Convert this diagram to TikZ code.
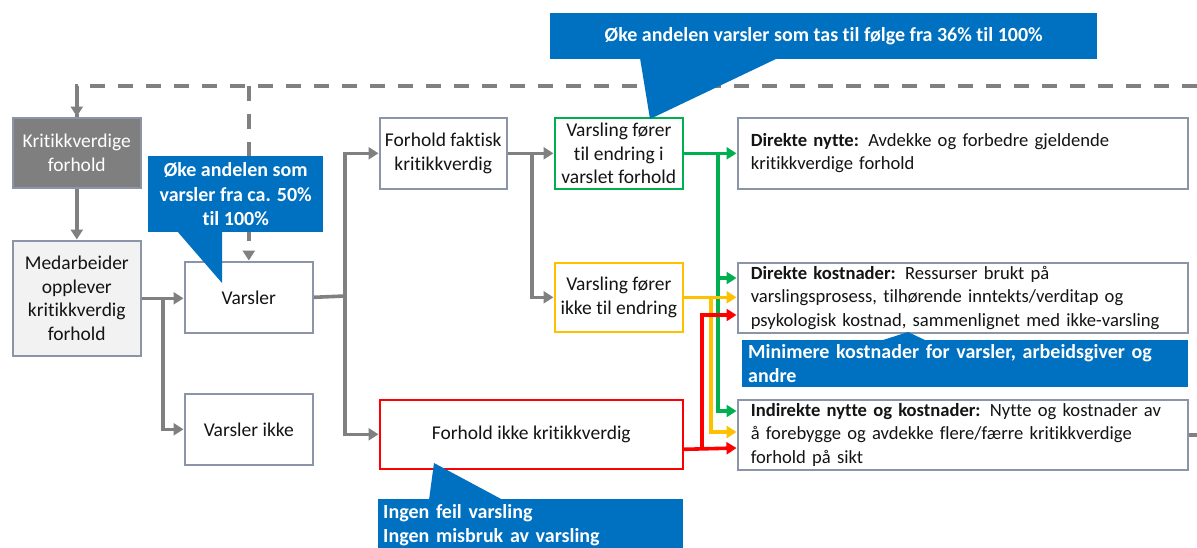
\documentclass[tikz,border=0pt]{standalone}
\usepackage{fontspec}
\setmainfont{Carlito}[Ligatures={NoCommon}]
\usetikzlibrary{arrows.meta,calc}
\definecolor{boxgray}{RGB}{140,148,168}
\definecolor{conngray}{RGB}{128,128,128}
\definecolor{darkfill}{RGB}{127,127,127}
\definecolor{lightfill}{RGB}{242,242,242}
\definecolor{calloutblue}{RGB}{0,112,192}
\definecolor{okgreen}{RGB}{0,176,80}
\definecolor{warnyellow}{RGB}{255,192,0}
\definecolor{badred}{RGB}{255,0,0}
\definecolor{textc}{RGB}{20,20,20}
\begin{document}
\begin{tikzpicture}[x=1pt,y=-1pt,
  box/.style={draw=boxgray, line width=2.6pt, fill=white, align=center,
    font=\fontsize{19.5}{23.5}\selectfont, text=textc, inner sep=2pt,
    anchor=north west},
  widebox/.style={box, align=left, inner xsep=13pt, text width=424pt,
    font=\fontsize{18.6}{23.5}\selectfont, minimum height=#1},
  conn/.style={draw=conngray, line width=3.6pt,
    -{Triangle[length=10pt,width=12pt]}},
  plain/.style={draw=conngray, line width=3.6pt},
  feedback/.style={draw=conngray, line width=3.6pt, dash pattern=on 15pt off 13pt},
  cgreen/.style={draw=okgreen, line width=3.6pt, -{Triangle[length=10pt,width=12pt]}},
  cyellow/.style={draw=warnyellow, line width=3.6pt, -{Triangle[length=10pt,width=12pt]}},
  cred/.style={draw=badred, line width=3.6pt, -{Triangle[length=10pt,width=12pt]}},
  callout/.style={fill=calloutblue, text=white, anchor=north west, inner sep=0pt,
    font=\fontsize{20}{24.5}\selectfont\bfseries},
]
\useasboundingbox (0,0) rectangle (1197,547);

% ---- boxes ----
\node[box, fill=darkfill, text=white, minimum width=128pt, minimum height=70pt]
  (krit) at (11.5,116.5) {Kritikkverdige\\forhold};
\node[box, fill=lightfill, minimum width=128pt, minimum height=115pt]
  (medarb) at (11.5,239.5) {Medarbeider\\opplever\\kritikkverdig\\forhold};
\node[box, minimum width=128pt, minimum height=71pt]
  (varsler) at (183.5,260.5) {Varsler};
\node[box, minimum width=128pt, minimum height=71pt]
  (varslerikke) at (183.5,392.5) {Varsler ikke};
\node[box, minimum width=127pt, minimum height=71pt]
  (faktisk) at (378.5,116.5) {Forhold faktisk\\kritikkverdig};
\node[box, draw=okgreen, minimum width=128pt, minimum height=71pt]
  (endring) at (553.5,116.5) {Varsling fører\\til endring i\\varslet forhold};
\node[box, draw=warnyellow, minimum width=128pt, minimum height=69pt]
  (ikkeendring) at (553.5,261.5) {Varsling fører\\ikke til endring};
\node[box, draw=badred, minimum width=303pt, minimum height=69pt]
  (ikkekrit) at (378.5,398.5) {Forhold ikke kritikkverdig};

\node[widebox=71pt] (nytte) at (736.5,116.5)
  {\textbf{Direkte nytte:} Avdekke og forbedre gjeldende\\kritikkverdige forhold};
\node[widebox=70pt] (kost) at (736.5,261.5)
  {\textbf{Direkte kostnader:} Ressurser brukt på\\varslingsprosess, tilhørende inntekts/verditap og\\psykologisk kostnad, sammenlignet med ikke\mbox{-}varsling};
\node[widebox=70pt] (indir) at (736.5,398.5)
  {\textbf{Indirekte nytte og kostnader:} Nytte og kostnader av\\å forebygge og avdekke flere/færre kritikkverdige\\forhold på sikt};

% ---- junction points ----
\coordinate (fbR) at (1197,86);
\coordinate (j1) at (163,297);
\coordinate (j2) at (345,296);
\coordinate (j3) at (532,152);

% ---- feedback loop (dashed) ----
\draw[plain] (indir.east) -- (indir.east -| fbR);
\draw[feedback] (fbR) -| (krit.north);
\draw[feedback, -{Triangle[length=10pt,width=12pt]}] (varsler.north |- fbR) -- (varsler.north);
\draw[conngray, line width=3.6pt, -{Triangle[length=10pt,width=12pt]}]
  ($(krit.north)+(0,-26)$) -- (krit.north);

% ---- grey flow ----
\draw[conn] (krit) -- (medarb);
\draw[conn] (medarb.east) -- (medarb.east -| varsler.west);
\draw[conn] (j1) |- (varslerikke.west);
\draw[plain] (varsler.east) -- (j2);
\draw[conn] (j2) |- (faktisk.west);
\draw[conn] (j2) |- (ikkekrit.west);
\draw[conn] (faktisk.east) -- (endring.west);
\draw[conn] (j3) |- (ikkeendring.west);

% ---- coloured outcome connectors ----
\coordinate (gx) at (718,0);
\coordinate (yx) at (711,0);
\coordinate (rx) at (702,0);
\draw[cgreen] (endring.east) -- (nytte.west |- endring.east);
\draw[cgreen] (gx |- endring.east) |- (kost.west |- 0,278);
\draw[cgreen] (gx |- endring.east) |- (indir.west |- 0,411);
\draw[cyellow] (ikkeendring.east) -- (kost.west |- ikkeendring.east);
\draw[cyellow] (yx |- ikkeendring.east) |- (indir.west |- 0,432);
\draw[cred] ([yshift=-15pt]ikkekrit.east) -- (indir.west |- 0,448);
\draw[cred] (rx |- 0,448) |- (kost.west |- 0,315);

% ---- callouts ----
\node[callout, minimum width=175pt, minimum height=76pt, align=center]
  (c1) at (148,156) {Øke andelen som\\varsler fra ca. 50\%\\til 100\%};
\fill[calloutblue] (177,231) -- (222,231) -- (222,283) -- cycle;

\node[callout, minimum width=547pt, minimum height=46pt, align=center]
  (c2) at (550,13) {Øke andelen varsler som tas til følge fra 36\% til 100\%};
\fill[calloutblue] (640,58) -- (778,58) -- (650,119) -- cycle;

\node[callout, minimum width=446pt, minimum height=47pt, inner xsep=6pt,
  text width=434pt, align=left]
  (c4) at (742,340) {Minimere kostnader for varsler, arbeidsgiver og\\andre};
\fill[calloutblue] (880,341) -- (927,341) -- (908,332) -- cycle;

\node[callout, minimum width=305pt, minimum height=52pt, inner xsep=5pt,
  inner ysep=0pt, text width=295pt, align=left]
  (c3) at (378,499) {Ingen feil varsling\\Ingen misbruk av varsling};
\fill[calloutblue] (429,500) -- (503,500) -- (434,463) -- cycle;
\end{tikzpicture}
\end{document}
